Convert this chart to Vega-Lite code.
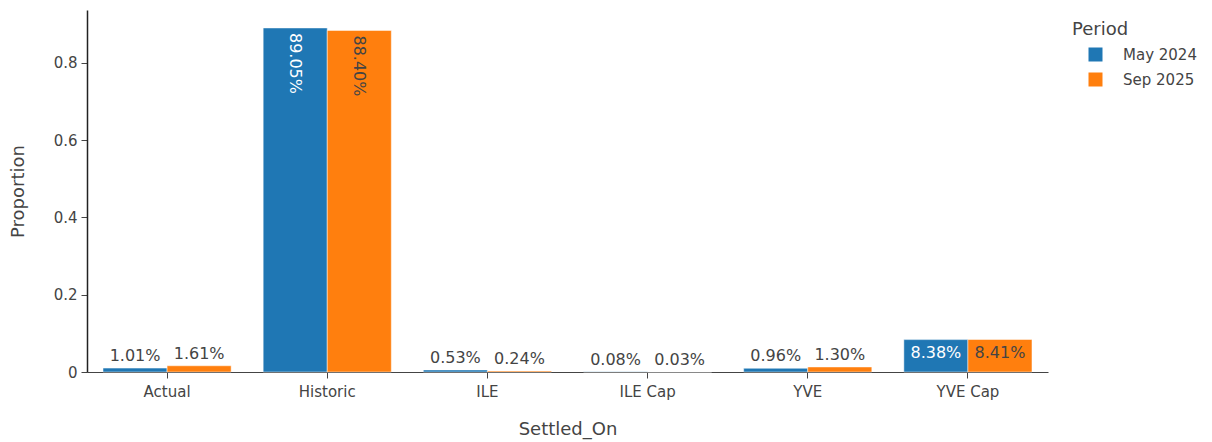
{
  "$schema": "https://vega.github.io/schema/vega-lite/v6.json",
  "autosize": "none",
  "width": 961,
  "height": 362,
  "padding": {"left": 87, "top": 10, "right": 164, "bottom": 70},
  "background": "white",
  "config": {
    "font": "DejaVu Sans",
    "view": {"stroke": null}
  },
  "data": {
    "values": [
      {"Settled_On": "Actual", "Period": "May 2024", "Proportion": 0.0101},
      {"Settled_On": "Actual", "Period": "Sep 2025", "Proportion": 0.0161},
      {"Settled_On": "Historic", "Period": "May 2024", "Proportion": 0.8905},
      {"Settled_On": "Historic", "Period": "Sep 2025", "Proportion": 0.8840},
      {"Settled_On": "ILE", "Period": "May 2024", "Proportion": 0.0053},
      {"Settled_On": "ILE", "Period": "Sep 2025", "Proportion": 0.0024},
      {"Settled_On": "ILE Cap", "Period": "May 2024", "Proportion": 0.0008},
      {"Settled_On": "ILE Cap", "Period": "Sep 2025", "Proportion": 0.0003},
      {"Settled_On": "YVE", "Period": "May 2024", "Proportion": 0.0096},
      {"Settled_On": "YVE", "Period": "Sep 2025", "Proportion": 0.0130},
      {"Settled_On": "YVE Cap", "Period": "May 2024", "Proportion": 0.0838},
      {"Settled_On": "YVE Cap", "Period": "Sep 2025", "Proportion": 0.0841}
    ]
  },
  "encoding": {
    "x": {
      "field": "Settled_On", "type": "nominal",
      "scale": {"paddingInner": 0.2, "paddingOuter": 0.1},
      "axis": {
        "title": "Settled_On", "labelAngle": 0, "labelFontSize": 15, "labelColor": "#444",
        "titleFontSize": 18, "titleColor": "#444", "titleFontWeight": "normal", "titlePadding": 21,
        "domainColor": "#444", "tickColor": "#444", "tickSize": 6, "labelPadding": 6
      }
    },
    "xOffset": {"field": "Period", "type": "nominal", "scale": {"paddingInner": 0}},
    "y": {
      "field": "Proportion", "type": "quantitative",
      "scale": {"domain": [0, 0.937], "nice": false},
      "axis": {
        "title": "Proportion", "values": [0, 0.2, 0.4, 0.6, 0.8], "grid": false,
        "labelExpr": "datum.value == 0 ? '0' : format(datum.value, '.1f')",
        "labelFontSize": 15, "labelColor": "#444", "titleFontSize": 18, "titleColor": "#444",
        "titleFontWeight": "normal", "titlePadding": 26,
        "domainColor": "#222", "domainWidth": 1.5, "tickColor": "#444", "tickSize": 6, "labelPadding": 4
      }
    }
  },
  "layer": [
    {
      "mark": {"type": "bar", "stroke": "white", "strokeWidth": 0.6, "strokeOpacity": 0.8},
      "encoding": {
        "color": {
          "field": "Period", "type": "nominal",
          "scale": {"domain": ["May 2024", "Sep 2025"], "range": ["#1f77b4", "#ff7f0e"]},
          "legend": {
            "orient": "none", "legendX": 985, "legendY": 11, "title": "Period",
            "titleFontSize": 18, "titleFontWeight": "normal", "titleColor": "#444", "titlePadding": 8,
            "labelFontSize": 15, "labelColor": "#444", "symbolType": "square", "symbolSize": 196,
            "symbolStrokeWidth": 0, "symbolOffset": 16, "labelOffset": 20, "rowPadding": 9
          }
        }
      }
    },
    {
      "transform": [{"filter": "datum.Proportion < 0.05"}],
      "mark": {"type": "text", "baseline": "bottom", "dy": -4, "fontSize": 16, "color": "#444"},
      "encoding": {"text": {"field": "Proportion", "type": "quantitative", "format": ".2%"}}
    },
    {
      "transform": [{"filter": "datum.Proportion >= 0.05 && datum.Proportion < 0.5"}],
      "mark": {"type": "text", "baseline": "top", "dy": 5, "fontSize": 16},
      "encoding": {
        "text": {"field": "Proportion", "type": "quantitative", "format": ".2%"},
        "color": {"condition": {"test": "datum.Period == 'May 2024'", "value": "white"}, "value": "#444"}
      }
    },
    {
      "transform": [{"filter": "datum.Proportion >= 0.5"}],
      "mark": {"type": "text", "angle": 90, "align": "left", "baseline": "middle", "dx": 5, "fontSize": 16},
      "encoding": {
        "text": {"field": "Proportion", "type": "quantitative", "format": ".2%"},
        "color": {"condition": {"test": "datum.Period == 'May 2024'", "value": "white"}, "value": "#444"}
      }
    }
  ]
}
